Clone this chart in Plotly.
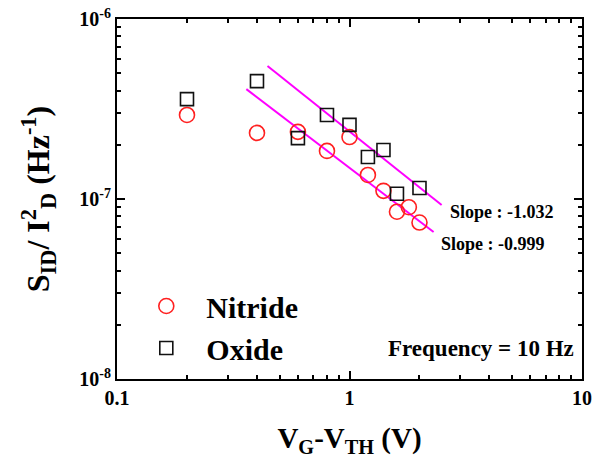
import math
import plotly.graph_objects as go

# Data
nitride_x = [0.2, 0.4, 0.6, 0.8, 1.0, 1.2, 1.4, 1.6, 1.8, 2.0]
nitride_y = [2.93e-7, 2.33e-7, 2.36e-7, 1.85e-7, 2.21e-7, 1.36e-7, 1.11e-7, 8.5e-8, 9.0e-8, 7.4e-8]
oxide_x = [0.2, 0.4, 0.6, 0.8, 1.0, 1.2, 1.4, 1.6, 2.0]
oxide_y = [3.59e-7, 4.52e-7, 2.18e-7, 2.93e-7, 2.58e-7, 1.71e-7, 1.87e-7, 1.07e-7, 1.15e-7]
fit_oxide_x = [0.444, 2.49]
fit_oxide_y = [5.48e-7, 9.26e-8]
fit_nitride_x = [0.36, 2.30]
fit_nitride_y = [4.08e-7, 6.56e-8]
slope_labels = ["Slope : -1.032", "Slope : -0.999"]
slope_label_x = [2.64, 2.42]
slope_label_y = [8.47e-8, 5.62e-8]
x_ticks = [0.1, 1, 10]
x_ticktext = ["0.1", "1", "10"]
y_ticks = [1e-8, 1e-7, 1e-6]
y_ticktext = ["10<sup>-8</sup>", "10<sup>-7</sup>", "10<sup>-6</sup>"]

FONT = "Liberation Serif, Times New Roman, serif"
MAG = "#ff00ff"

fig = go.Figure()
fig.add_trace(go.Scatter(x=fit_oxide_x, y=fit_oxide_y, mode="lines",
                         line=dict(color=MAG, width=2), showlegend=False))
fig.add_trace(go.Scatter(x=fit_nitride_x, y=fit_nitride_y, mode="lines",
                         line=dict(color=MAG, width=2), showlegend=False))
fig.add_trace(go.Scatter(x=nitride_x, y=nitride_y, mode="markers", name="Nitride",
                         legendgroup="a",
                         marker=dict(symbol="circle-open", size=15, color="#ff2020",
                                     line=dict(width=1.6, color="#ff2020"))))
fig.add_trace(go.Scatter(x=oxide_x, y=oxide_y, mode="markers", name="Oxide",
                         legendgroup="b",
                         marker=dict(symbol="square-open", size=13, color="#111111",
                                     line=dict(width=1.6, color="#111111"))))

minor_x = [m * 10.0 ** e for e in (-1, 0) for m in range(2, 10)]
minor_y = [m * 10.0 ** e for e in (-8, -7) for m in range(2, 10)]

axis_common = dict(type="log", showline=True, linewidth=2, linecolor="black", mirror="ticks",
                   ticks="inside", ticklen=8, tickwidth=2, tickcolor="black", showgrid=False,
                   zeroline=False, automargin=False,
                   tickfont=dict(family=FONT, size=20, color="black", weight="bold"))

fig.update_xaxes(range=[-1, 1], tickvals=x_ticks, ticktext=x_ticktext,
                 minor=dict(tickvals=minor_x, ticks="inside", ticklen=4, tickwidth=1.5,
                            tickcolor="black", showgrid=False),
                 title=dict(text="V<sub>G</sub>-V<sub>TH</sub> (V)",
                            font=dict(family=FONT, size=29, color="black", weight="bold"),
                            standoff=20),
                 **axis_common)
fig.update_yaxes(range=[-8, -6], tickvals=y_ticks, ticktext=y_ticktext,
                 minor=dict(tickvals=minor_y, ticks="inside", ticklen=4, tickwidth=1.5,
                            tickcolor="black", showgrid=False),
                 title=dict(text="S<sub>ID</sub>/ I<sup>2</sup><sub>D</sub> (Hz<sup>-1</sup>)",
                            font=dict(family=FONT, size=32, color="black", weight="bold"),
                            standoff=20),
                 **axis_common)

fig.add_annotation(x=0.988, y=0.045, xref="paper", yref="paper", xanchor="right", yanchor="bottom",
                   text="Frequency = 10 Hz", showarrow=False,
                   font=dict(family=FONT, size=23, color="black", weight="bold"))
for txt, lx, ly in zip(slope_labels, slope_label_x, slope_label_y):
    # annotation positions on log axes are given in log10 units
    fig.add_annotation(x=math.log10(lx), y=math.log10(ly), xref="x", yref="y",
                       xanchor="left", yanchor="middle", text=txt, showarrow=False,
                       font=dict(family=FONT, size=18, color="black", weight="bold"))

fig.update_layout(
    width=597, height=467,
    margin=dict(l=117, r=15, t=19, b=88),
    paper_bgcolor="white", plot_bgcolor="white",
    legend=dict(x=0.02, y=0.275, xanchor="left", yanchor="top", bgcolor="rgba(0,0,0,0)",
                font=dict(family=FONT, size=30, color="black", weight="bold"), itemwidth=70,
                tracegroupgap=0),
    showlegend=True,
)

fig.write_html("out.html")
